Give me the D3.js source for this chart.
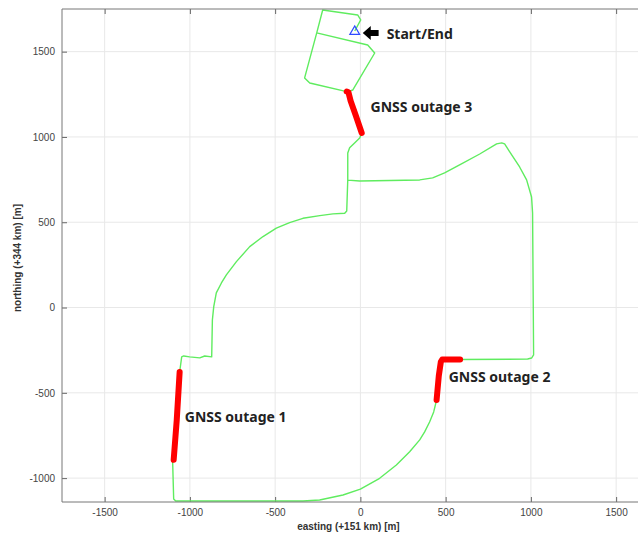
<!DOCTYPE html>
<meta charset="utf-8">
<style>
  body { margin: 0; background: #fff; }
  .tick text { font-family: "Liberation Sans", Arial, sans-serif; font-size: 10px; fill: #444; }
</style>
<body>
<script src="https://d3js.org/d3.v7.min.js"></script>
<script>
// vehicle trajectory, easting / northing offsets in metres
var trackE = [-33, 2, -16, -221, -256, 43, 84, -45, -74, -57, -28, 8, -4, -34, -63, -74, -74,
  -4, 348, 424, 494, 582, 700, 799, 829, 846, 876, 934, 975, 1004, 1010, 1016, 1004, 981, 582,
  494, 477, 465, 447, 430, 406, 377, 348, 289, 211, 113, 0, -102, -239, -337,
  -1083, -1095, -1101, -1095, -1077, -1060, -1048, -1036, -1001, -942, -913, -872, -868,
  -860, -845, -815, -786, -727, -649, -571, -493, -415, -337, -238, -161, -92, -80, -74,
  -74, -63, -34, -4, 8, -28, -57, -74, -297, -327, -256, -221, -16, 2, -33];
var trackN = [1621, 1686, 1715, 1744, 1610, 1539, 1492, 1275, 1264, 1211, 1129, 1023, 994, 965, 936, 906, 747,
  742, 748, 760, 789, 836, 900, 959, 965, 959, 912, 824, 748, 648, 555, -278, -296, -302, -305,
  -305, -317, -393, -542, -612, -671, -729, -776, -845, -923, -1001, -1065, -1099, -1128, -1134,
  -1134, -1122, -905, -893, -659, -378, -289, -284, -289, -295, -284, -289, -73,
  5, 86, 144, 191, 269, 357, 416, 465, 498, 523, 539, 549, 553, 566, 747,
  906, 936, 965, 994, 1023, 1129, 1211, 1264, 1316, 1346, 1610, 1744, 1715, 1686, 1621];

// GNSS outage stretches
var outage1E = [-1095, -1077, -1060];
var outage1N = [-893, -659, -378];
var outage2E = [585, 480, 472, 460, 447];
var outage2N = [-305, -305, -318, -400, -542];
var outage3E = [-80, -70, -57, -28, 8];
var outage3N = [1266, 1262, 1211, 1129, 1023];

var startE = -33, startN = 1621;

var annotText = ["Start/End", "GNSS outage 3", "GNSS outage 2", "GNSS outage 1"];
var annotE = [154, 60, 518, -1030];
var annotN = [1604, 1176, -407, -641];

var xTicks = [-1500, -1000, -500, 0, 500, 1000, 1500];
var yTicks = [-1000, -500, 0, 500, 1000, 1500];

var W = 638, H = 539;
var svg = d3.select("body").append("svg").attr("width", W).attr("height", H);

var x = d3.scaleLinear().domain([-1750, 1750]).range([62, 658.75]);
var y = d3.scaleLinear().domain([-1140, 1750]).range([502, 9]);

svg.append("clipPath").attr("id", "clip").append("rect")
  .attr("x", 62).attr("y", 9).attr("width", 597).attr("height", 493);

// grid
var grid = svg.append("g").attr("stroke", "#e8e8e8").attr("stroke-width", 1);
grid.selectAll(".gx").data(xTicks).enter().append("line")
  .attr("x1", d => x(d)).attr("x2", d => x(d)).attr("y1", 9).attr("y2", 502);
grid.selectAll(".gy").data(yTicks).enter().append("line")
  .attr("y1", d => y(d)).attr("y2", d => y(d)).attr("x1", 62).attr("x2", W);

// axes with inside ticks
var fmt = d => String(d);
var gx = svg.append("g").attr("transform", "translate(0,502)")
  .call(d3.axisBottom(x).tickValues(xTicks).tickSizeInner(-5).tickSizeOuter(0).tickPadding(7).tickFormat(fmt));
var gxt = svg.append("g").attr("transform", "translate(0,9)")
  .call(d3.axisTop(x).tickValues(xTicks).tickSizeInner(-5).tickSizeOuter(0).tickFormat(""));
var gy = svg.append("g").attr("transform", "translate(62,0)")
  .call(d3.axisLeft(y).tickValues(yTicks).tickSizeInner(-5).tickSizeOuter(0).tickPadding(7).tickFormat(fmt));
[gx, gxt, gy].forEach(g => {
  g.select(".domain").remove();
  g.selectAll(".tick line").attr("stroke", "#666");
});

// trajectory
var plot = svg.append("g").attr("clip-path", "url(#clip)");
var line = d3.line().x(d => x(d[0])).y(d => y(d[1]));

plot.append("path")
  .datum(d3.zip(trackE, trackN))
  .attr("fill", "none").attr("stroke", "#5fec5f").attr("stroke-width", 1.4)
  .attr("stroke-linejoin", "round")
  .attr("d", line);

[[outage1E, outage1N], [outage2E, outage2N], [outage3E, outage3N]].forEach(o => {
  plot.append("path")
    .datum(d3.zip(o[0], o[1]))
    .attr("fill", "none").attr("stroke", "#ff0000").attr("stroke-width", 6)
    .attr("stroke-linecap", "round").attr("stroke-linejoin", "round")
    .attr("d", line);
});

// start/end marker
var sx = x(startE), sy = y(startN);
plot.append("path")
  .attr("d", d3.symbol().type(d3.symbolTriangle).size(40)())
  .attr("transform", "translate(" + sx + "," + (sy + 0.5) + ")")
  .attr("fill", "none").attr("stroke", "#2f4bff").attr("stroke-width", 1.3);

// arrow pointing at the start
var ax = x(14), ay = y(1609), tail = x(107);
svg.append("path")
  .attr("d", "M" + ax + "," + ay + "l8,-7v4h" + (tail - ax - 8) + "v6h" + (-(tail - ax - 8)) + "v4z")
  .attr("fill", "#000");

// annotations
svg.selectAll(".annot").data(annotText).enter().append("text")
  .attr("x", (d, i) => x(annotE[i])).attr("y", (d, i) => y(annotN[i]))
  .attr("dy", "0.35em")
  .attr("font-family", "'Noto Sans', 'Open Sans', sans-serif")
  .attr("font-weight", "bold").attr("font-size", 14).attr("fill", "#222")
  .text(d => d);

// box
svg.append("path")
  .attr("d", "M" + W + ",9H62V502H" + W)
  .attr("fill", "none").attr("stroke", "#777").attr("stroke-width", 1);

// axis labels
svg.append("text")
  .attr("x", x(-70)).attr("y", 530)
  .attr("text-anchor", "middle")
  .attr("font-family", "'Liberation Sans', Arial, sans-serif")
  .attr("font-weight", "bold").attr("font-size", 10).attr("fill", "#333")
  .text("easting (+151 km) [m]");

svg.append("text")
  .attr("transform", "translate(21," + y(290) + ") rotate(-90)")
  .attr("text-anchor", "middle")
  .attr("font-family", "'Liberation Sans', Arial, sans-serif")
  .attr("font-weight", "bold").attr("font-size", 10).attr("fill", "#333")
  .text("northing (+344 km) [m]");
</script>
</body>
